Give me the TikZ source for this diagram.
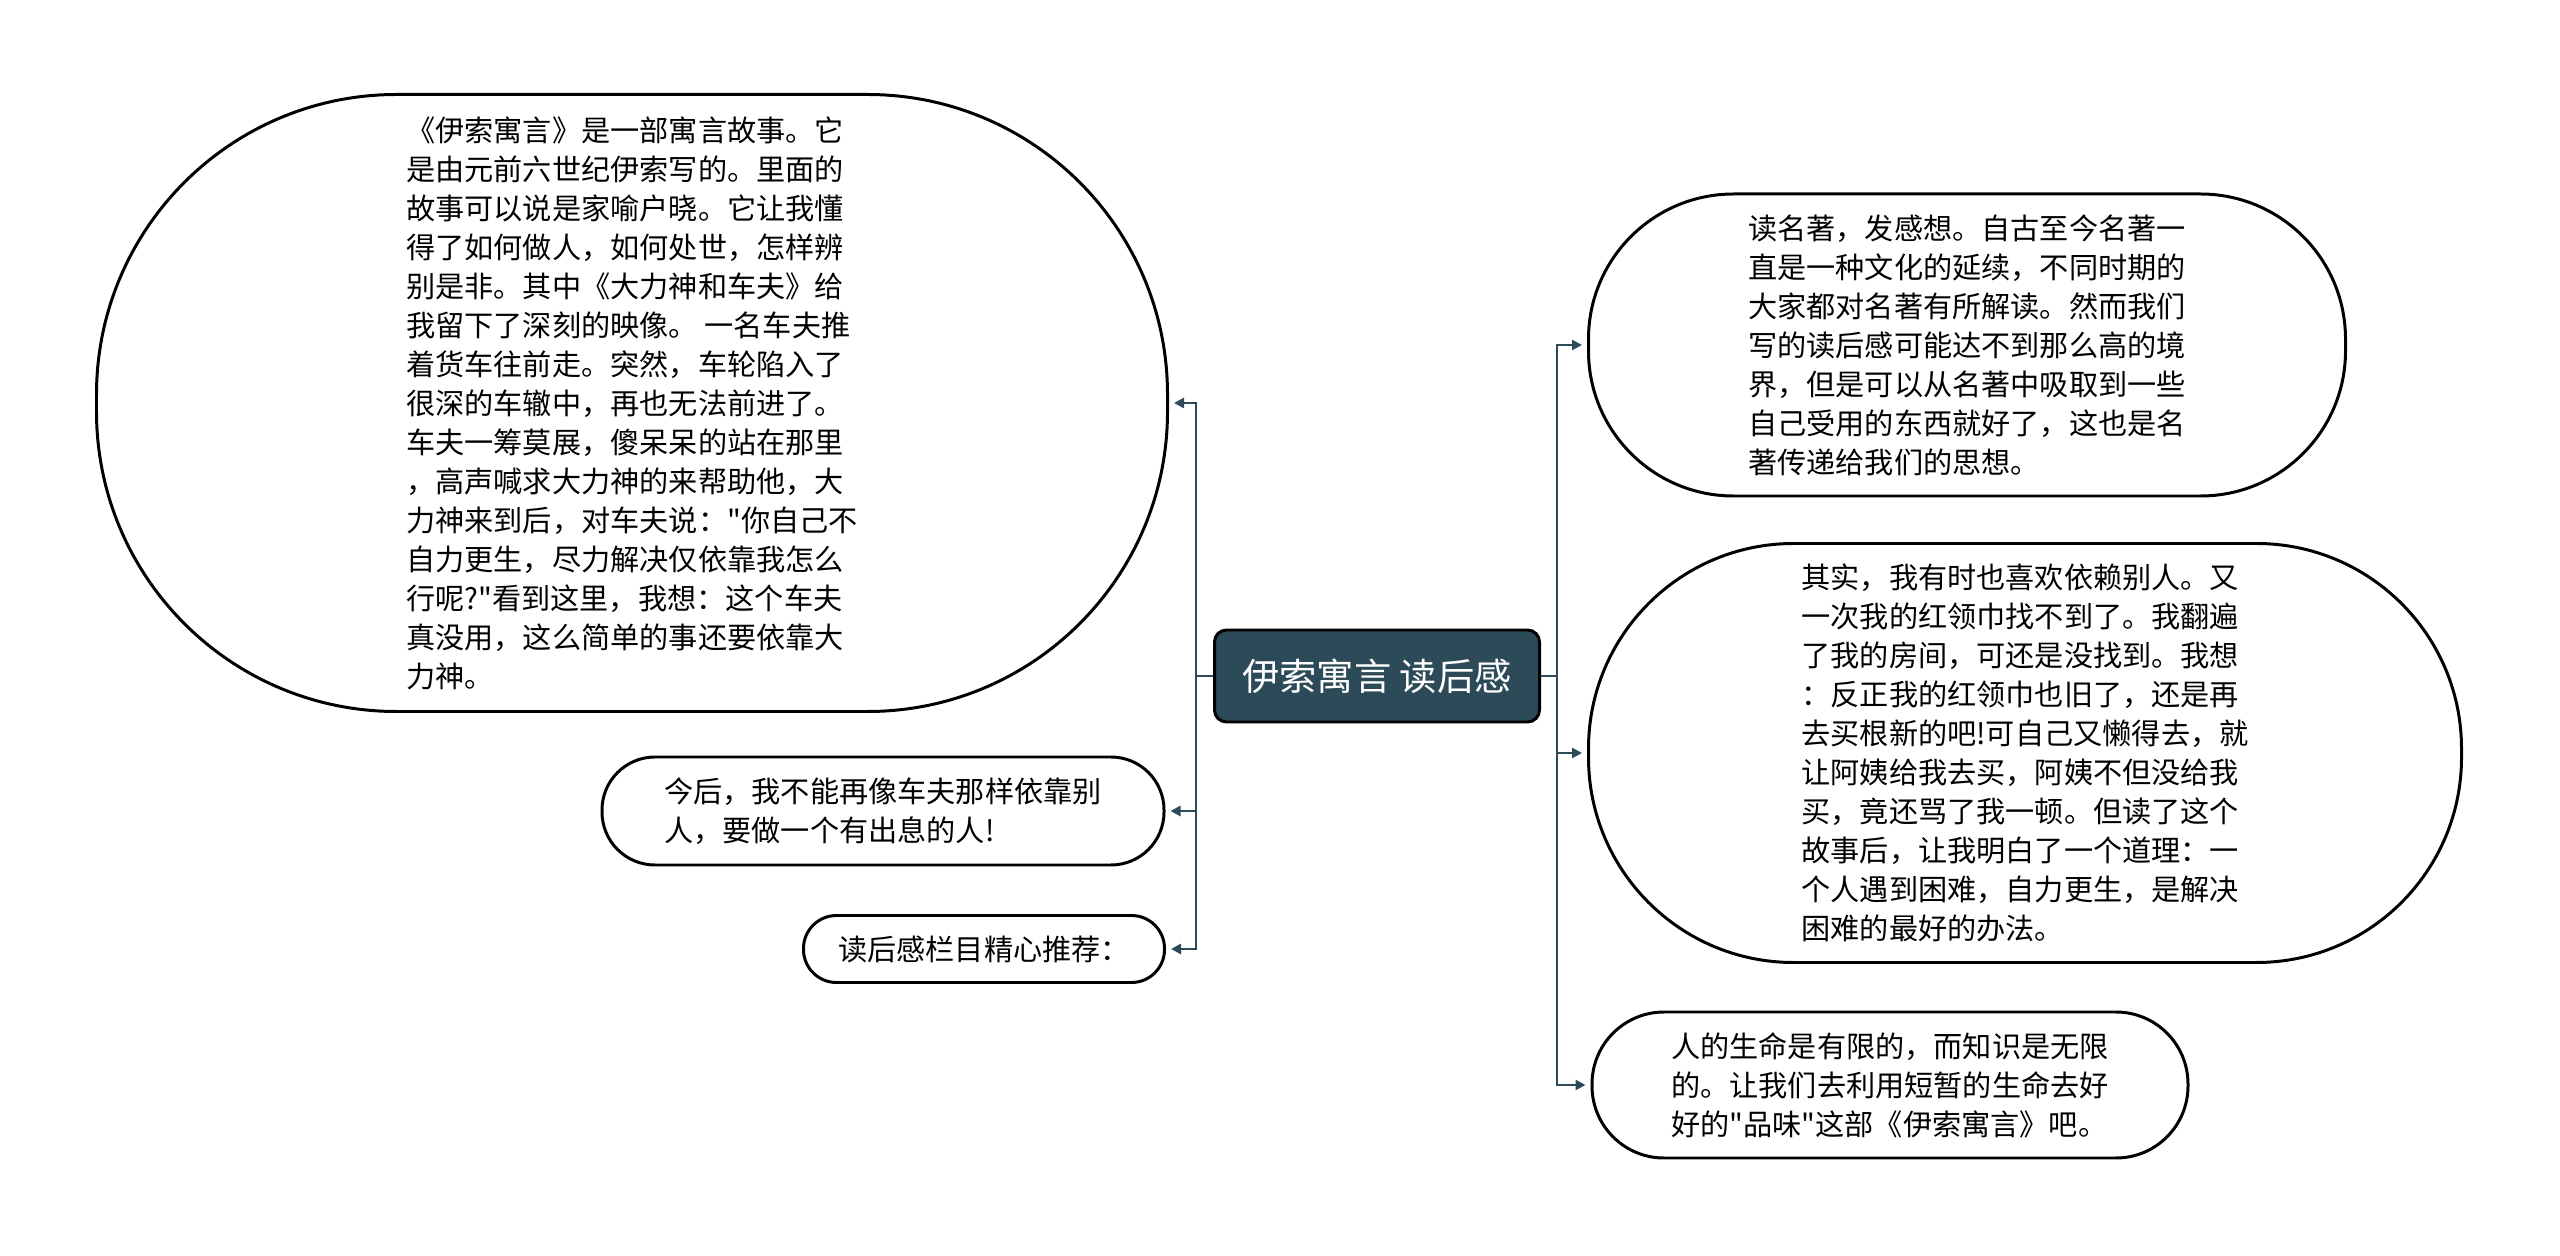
\documentclass[tikz,border=0pt]{standalone}
\usepackage{fontspec}
\newfontfamily\cjk{Noto Sans CJK SC}
\usetikzlibrary{arrows.meta}

\definecolor{teal}{HTML}{2C4A58}

\tikzset{
  bubble/.style={draw=black, line width=0.85pt, fill=white, inner sep=0pt,
    align=left, font=\cjk\fontsize{8.3}{11.1}\selectfont},
  topic/.style={draw=black, line width=0.85pt, fill=teal, text=white,
    rounded corners=1.2mm, minimum width=3.25cm, minimum height=0.92cm,
    font=\cjk\fontsize{10.6}{12}\selectfont},
  link/.style={draw=teal, line width=0.8pt},
  arrow/.style={link, -{Triangle[length=1mm,width=1mm]}, shorten >=0.5mm}
}

\begin{document}
\begin{tikzpicture}
	\useasboundingbox (0,0) rectangle (25.6,12.55);
	\node [topic](Titolo) at (13.77,5.79) {伊索寓言 读后感};
	% left side
	\node [bubble, rounded corners=3cm, minimum width=10.71cm, minimum height=6.17cm](Storia) at (6.32,8.52) {《伊索寓言》是一部寓言故事。它\\是由元前六世纪伊索写的。里面的\\故事可以说是家喻户晓。它让我懂\\得了如何做人，如何处世，怎样辨\\别是非。其中《大力神和车夫》给\\我留下了深刻的映像。 一名车夫推\\着货车往前走。突然，车轮陷入了\\很深的车辙中，再也无法前进了。\\车夫一筹莫展，傻呆呆的站在那里\\，高声喊求大力神的来帮助他，大\\力神来到后，对车夫说："你自己不\\自力更生，尽力解决仅依靠我怎么\\行呢?"看到这里，我想：这个车夫\\真没用，这么简单的事还要依靠大\\力神。};
	\node [bubble, rounded corners=0.53cm, minimum width=5.62cm, minimum height=1.08cm](Lezione) at (8.83,4.44) {今后，我不能再像车夫那样依靠别\\人，要做一个有出息的人!};
	\node [bubble, rounded corners=0.33cm, minimum width=3.61cm, minimum height=0.67cm](Rubrica) at (9.84,3.06) {读后感栏目精心推荐：};
	% right side
	\node [bubble, rounded corners=1.45cm, minimum width=7.57cm, minimum height=3.02cm](Classici) at (19.67,9.10) {读名著，发感想。自古至今名著一\\直是一种文化的延续，不同时期的\\大家都对名著有所解读。然而我们\\写的读后感可能达不到那么高的境\\界，但是可以从名著中吸取到一些\\自己受用的东西就好了，这也是名\\著传递给我们的思想。};
	\node [bubble, rounded corners=2.05cm, minimum width=8.73cm, minimum height=4.19cm](Fazzoletto) at (20.25,5.02) {其实，我有时也喜欢依赖别人。又\\一次我的红领巾找不到了。我翻遍\\了我的房间，可还是没找到。我想\\：反正我的红领巾也旧了，还是再\\去买根新的吧!可自己又懒得去，就\\让阿姨给我去买，阿姨不但没给我\\买，竟还骂了我一顿。但读了这个\\故事后，让我明白了一个道理：一\\个人遇到困难，自力更生，是解决\\困难的最好的办法。};
	\node [bubble, rounded corners=0.72cm, minimum width=5.96cm, minimum height=1.46cm](Vita) at (18.90,1.70) {人的生命是有限的，而知识是无限\\的。让我们去利用短暂的生命去好\\好的"品味"这部《伊索寓言》吧。};
	% connectors
	\draw [link](Titolo.west) -- ++(-0.17,0) coordinate (Sinistra);
	\draw [link](Titolo.east) -- ++(0.16,0) coordinate (Destra);
	\draw [arrow](Sinistra) |- (Storia.east);
	\draw [arrow](Sinistra) |- (Lezione.east);
	\draw [arrow](Sinistra) |- (Rubrica.east);
	\draw [arrow](Destra) |- (Classici.west);
	\draw [arrow](Destra) |- (Fazzoletto.west);
	\draw [arrow](Destra) |- (Vita.west);
\end{tikzpicture}
\end{document}
